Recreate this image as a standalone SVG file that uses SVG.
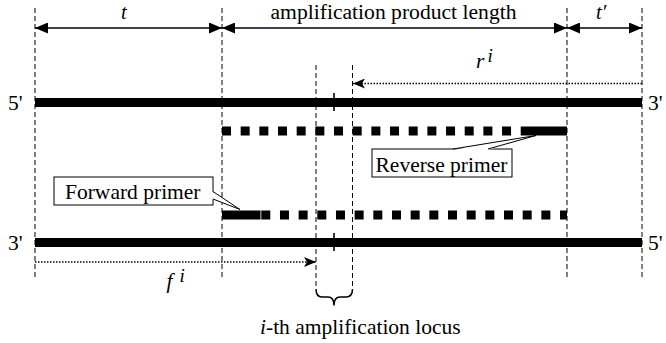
<svg xmlns="http://www.w3.org/2000/svg" width="666" height="343" viewBox="0 0 666 343">
  <style>
    .guide { stroke: #000; stroke-width: 1; stroke-dasharray: 5 3; fill: none; }
    .dim { stroke: #000; stroke-width: 1.4; fill: none; }
    .dot { stroke: #000; stroke-width: 1.3; stroke-dasharray: 1.5 1.5; fill: none; }
    .strand { stroke: #000; stroke-width: 9; fill: none; }
    .product { stroke: #000; stroke-width: 9; stroke-dasharray: 9 9.67; fill: none; }
    .tick { stroke: #000; stroke-width: 1.6; }
    .box { fill: #fff; stroke: #000; stroke-width: 1; }
    .ptr { fill: none; stroke: #000; stroke-width: 1; }
    .lbl { font-family: 'Liberation Serif', serif; font-size: 21.5px; fill: #000; }
    .top { font-size: 20.5px; }
    .sup { font-size: 19px; }
    .it { font-style: italic; }
  </style>
  <defs>
    <marker id="tri" viewBox="0 0 13 11" refX="13" refY="5.5" markerWidth="13" markerHeight="11" markerUnits="userSpaceOnUse" orient="auto-start-reverse">
      <path d="M0,0 L13,5.5 L0,11 z" fill="#000"/>
    </marker>
    <marker id="dart" viewBox="0 0 12 10" refX="12" refY="5" markerWidth="12" markerHeight="10" markerUnits="userSpaceOnUse" orient="auto">
      <path d="M0,0 L12,5 L0,10 L3,5 z" fill="#000"/>
    </marker>
  </defs>

  <g id="guides">
    <line class="guide" x1="35" y1="8" x2="35" y2="280"/>
    <line class="guide" x1="222" y1="8" x2="222" y2="280"/>
    <line class="guide" x1="567" y1="8" x2="567" y2="280"/>
    <line class="guide" x1="642" y1="8" x2="642" y2="280"/>
    <line class="guide" x1="316" y1="65" x2="316" y2="288"/>
    <line class="guide" x1="352.5" y1="65" x2="352.5" y2="288"/>
  </g>

  <g id="top-strand">
    <line class="strand" x1="35" y1="102.5" x2="642" y2="102.5"/>
    <line class="tick" x1="334" y1="93" x2="334" y2="111"/>
    <text class="lbl" x="8" y="110" font-family="Liberation Serif, serif">5'</text>
    <text class="lbl" x="648" y="110" font-family="Liberation Serif, serif">3'</text>
  </g>

  <g id="bottom-strand">
    <line class="strand" x1="35" y1="242.5" x2="642" y2="242.5"/>
    <line class="tick" x1="334" y1="233" x2="334" y2="251"/>
    <text class="lbl" x="8" y="250" font-family="Liberation Serif, serif">3'</text>
    <text class="lbl" x="648" y="250" font-family="Liberation Serif, serif">5'</text>
  </g>

  <g id="upper-product">
    <line class="product" x1="222" y1="131" x2="527" y2="131"/>
    <rect x="527" y="126.5" width="40" height="9" fill="#000"/>
  </g>

  <g id="lower-product">
    <rect x="222" y="210.5" width="38.5" height="9" fill="#000"/>
    <line class="product" x1="261.3" y1="215" x2="567" y2="215"/>
  </g>

  <g id="forward-primer-callout">
    <rect class="box" x="54" y="177" width="159" height="28"/>
    <polygon points="212,191.5 240,209.5 212,199" fill="#fff"/>
    <polyline class="ptr" points="213,191.5 240,209.5 213,199"/>
    <text class="lbl" x="65" y="198.5" font-family="Liberation Serif, serif">Forward primer</text>
  </g>

  <g id="reverse-primer-callout">
    <rect class="box" x="372" y="149" width="140" height="28"/>
    <polygon points="453,150 536,135.5 488,150" fill="#fff"/>
    <polyline class="ptr" points="453,149 536,135.5 488,149"/>
    <text class="lbl" x="375.5" y="171.5" font-family="Liberation Serif, serif">Reverse primer</text>
  </g>

  <g id="connectors">
    <line class="dim" x1="35" y1="28" x2="222" y2="28" marker-start="url(#tri)" marker-end="url(#tri)"/>
    <line class="dim" x1="222" y1="28" x2="567" y2="28" marker-start="url(#tri)" marker-end="url(#tri)"/>
    <line class="dim" x1="567" y1="28" x2="642" y2="28" marker-start="url(#tri)" marker-end="url(#tri)"/>
    <line class="dot" x1="642" y1="83.5" x2="353" y2="83.5" marker-end="url(#dart)"/>
    <line class="dot" x1="35" y1="262" x2="316" y2="262" marker-end="url(#dart)"/>
    <path d="M316,289 Q316,297 322,297 L328,297 Q334,297 334,305.5 Q334,297 340,297 L346,297 Q352.5,297 352.5,289" fill="none" stroke="#000" stroke-width="1.5"/>
  </g>

  <g id="labels">
    <text class="lbl top it" x="121" y="18.5" font-family="Liberation Serif, serif">t</text>
    <text class="lbl top" x="270.5" y="18.5" font-family="Liberation Serif, serif" textLength="246" lengthAdjust="spacingAndGlyphs">amplification product length</text>
    <text class="lbl top it" x="596" y="18.5" font-family="Liberation Serif, serif">t&#8242;</text>
    <text class="lbl it" x="476" y="68" font-family="Liberation Serif, serif">r</text>
    <text class="lbl sup it" x="487.5" y="62" font-family="Liberation Serif, serif">i</text>
    <text class="lbl it" x="166.5" y="288" font-family="Liberation Serif, serif">f</text>
    <text class="lbl sup it" x="179.5" y="282" font-family="Liberation Serif, serif">i</text>
    <text class="lbl" x="260" y="334" font-family="Liberation Serif, serif"><tspan class="it">i</tspan>-th amplification locus</text>
  </g>
</svg>
